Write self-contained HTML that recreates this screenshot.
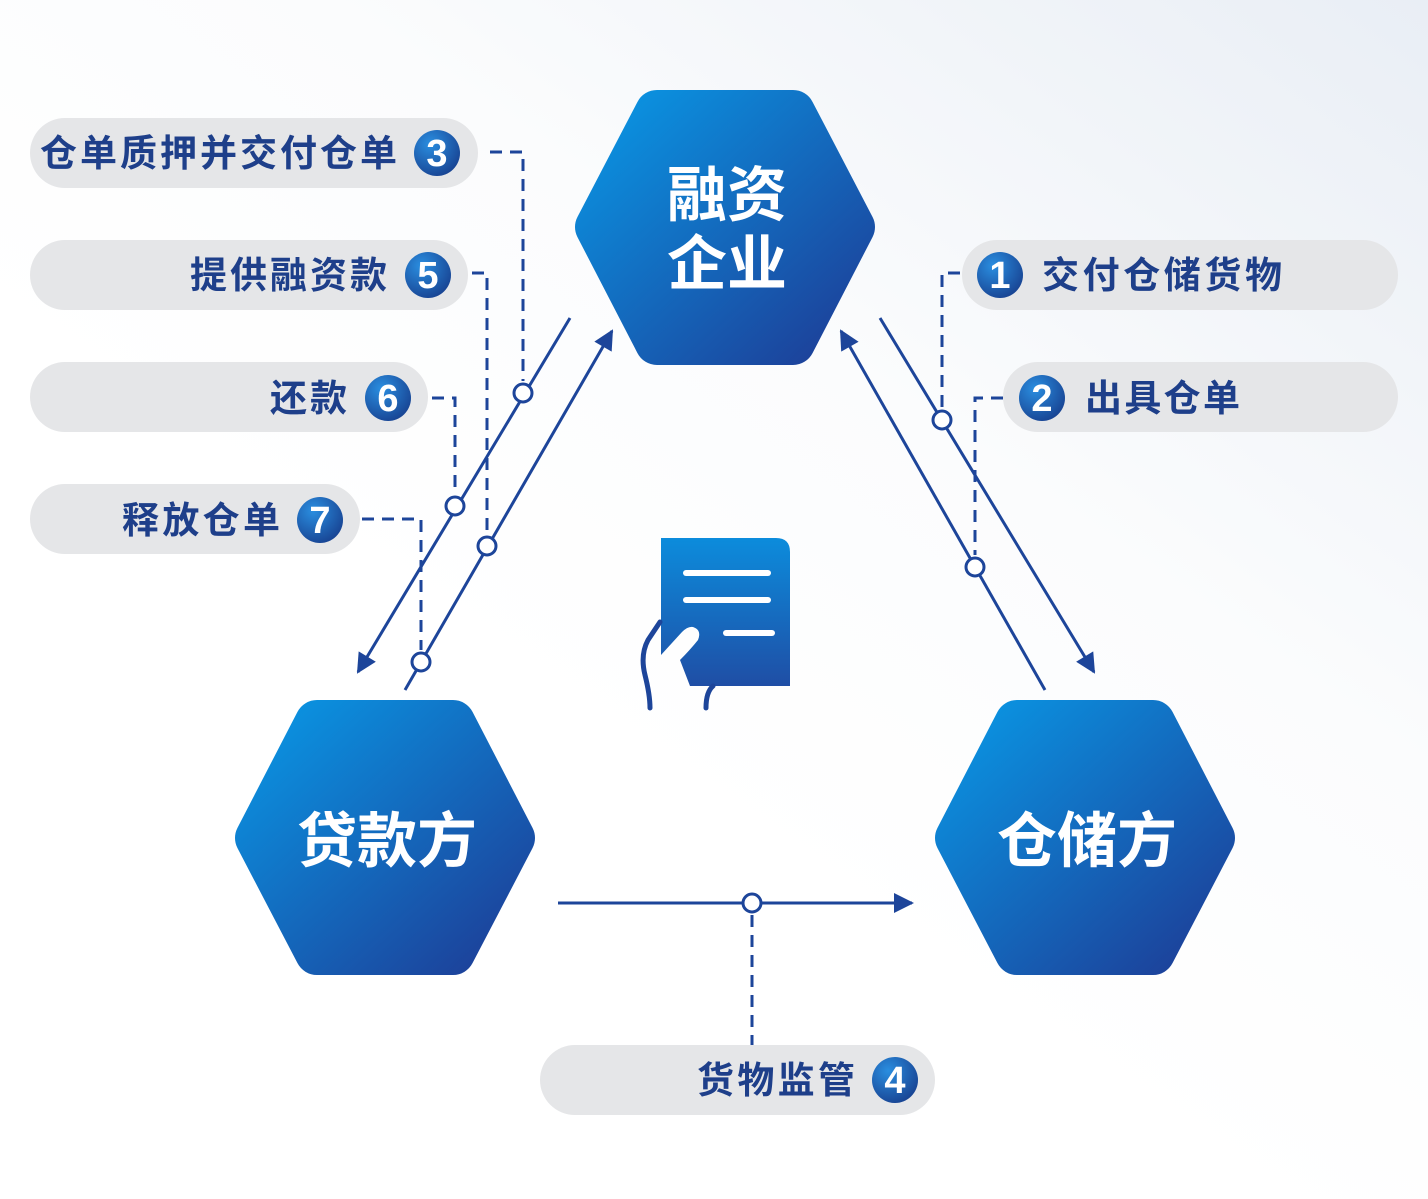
<!DOCTYPE html>
<html><head><meta charset="utf-8"><style>
html,body{margin:0;padding:0;}
body{width:1428px;height:1199px;overflow:hidden;background:linear-gradient(215deg,#e9eef5 0%,#fbfcfd 35%,#ffffff 60%);}
svg{display:block}
text{font-family:"Liberation Sans","Noto Sans CJK SC",sans-serif;}
</style></head><body>
<svg width="1428" height="1199" viewBox="0 0 1428 1199">
<defs>
<linearGradient id="g" x1="0" y1="0" x2="1" y2="1">
<stop offset="0" stop-color="#0a94e2"/><stop offset="1" stop-color="#1d3f98"/></linearGradient>
<linearGradient id="gd" x1="0" y1="0" x2="0" y2="1">
<stop offset="0" stop-color="#0c8cdc"/><stop offset="1" stop-color="#1f4ea5"/></linearGradient>
<radialGradient id="nb" cx="0.35" cy="0.3" r="0.8"><stop offset="0" stop-color="#2a8ee0"/><stop offset="1" stop-color="#173f8e"/></radialGradient>
<marker id="ar" viewBox="0 0 10 10" refX="9" refY="5" markerWidth="22" markerHeight="20" markerUnits="userSpaceOnUse" orient="auto"><path d="M0,0L10,5L0,10z" fill="#1d459a"/></marker>
</defs>
<g fill="url(#g)" stroke="url(#g)" stroke-width="44" stroke-linejoin="round">
<polygon points="597,227 657,112 793,112 853,227 793,343 657,343"/>
<polygon points="257,838 317,722 453,722 513,838 453,953 317,953"/>
<polygon points="957,838 1017,722 1153,722 1213,838 1153,953 1017,953"/>
</g>
<g fill="#fff" font-weight="bold" font-size="60" text-anchor="middle">
<text x="727" y="216">融资</text><text x="727" y="285">企业</text>
<text x="387" y="862">贷款方</text><text x="1087" y="862">仓储方</text>
</g>
<g fill="#e5e6e8">
<rect x="30" y="118" width="448" height="70" rx="35"/>
<rect x="30" y="240" width="438" height="70" rx="35"/>
<rect x="30" y="362" width="398" height="70" rx="35"/>
<rect x="30" y="484" width="330" height="70" rx="35"/>
<rect x="962" y="240" width="436" height="70" rx="35"/>
<rect x="1003" y="362" width="395" height="70" rx="35"/>
<rect x="540" y="1045" width="395" height="70" rx="35"/>
</g>
<g fill="#1e3f8a" font-size="37" font-weight="bold" lengthAdjust="spacing">
<text x="40" y="166" textLength="357">仓单质押并交付仓单</text>
<text x="190" y="288" textLength="197">提供融资款</text>
<text x="270" y="411" textLength="77">还款</text>
<text x="122" y="533" textLength="158">释放仓单</text>
<text x="1042" y="288" textLength="240">交付仓储货物</text>
<text x="1085" y="411" textLength="155">出具仓单</text>
<text x="697" y="1093" textLength="158">货物监管</text>
</g>
<g fill="url(#nb)">
<circle cx="437" cy="153" r="23"/><circle cx="428" cy="275" r="23"/><circle cx="388" cy="398" r="23"/><circle cx="320" cy="520" r="23"/>
<circle cx="1000" cy="275" r="23"/><circle cx="1042" cy="398" r="23"/><circle cx="895" cy="1080" r="23"/>
</g>
<g fill="#fff" font-size="38" font-weight="bold" text-anchor="middle">
<text x="437" y="166">3</text><text x="428" y="288">5</text><text x="388" y="411">6</text><text x="320" y="533">7</text>
<text x="1000" y="288">1</text><text x="1042" y="411">2</text><text x="895" y="1093">4</text>
</g>
<g fill="none" stroke="#1d459a" stroke-width="3" stroke-dasharray="12,8">
<polyline points="490,152 523,152 523,381"/>
<polyline points="472,273 487,273 487,534"/>
<polyline points="432,398 455,398 455,494"/>
<polyline points="362,519 421,519 421,650"/>
<polyline points="960,273 942,273 942,408"/>
<polyline points="1003,398 975,398 975,555"/>
<polyline points="752,915 752,1045"/>
</g>
<g stroke="#1d459a" stroke-width="3" fill="none" marker-end="url(#ar)">
<line x1="570" y1="318" x2="358" y2="672"/>
<line x1="405" y1="690" x2="612" y2="331"/>
<line x1="880" y1="318" x2="1094" y2="672"/>
<line x1="1045" y1="690" x2="841" y2="331"/>
<line x1="558" y1="903" x2="912" y2="903"/>
</g>
<g fill="#fff" stroke="#1d459a" stroke-width="3">
<circle cx="523" cy="393" r="9"/><circle cx="455" cy="506" r="9"/><circle cx="487" cy="546" r="9"/><circle cx="421" cy="662" r="9"/>
<circle cx="942" cy="420" r="9"/><circle cx="975" cy="567" r="9"/><circle cx="752" cy="903" r="9"/>
</g>
<path d="M661,538 H776 Q790,538 790,552 V686 H690 L680,660 Q690,650 698,640 Q702,630 693,627 Q688,626 682,632 L661,655 Z" fill="url(#gd)"/>
<g stroke="#fff" stroke-width="6" stroke-linecap="round">
<line x1="686" y1="573" x2="768" y2="573"/><line x1="686" y1="600" x2="768" y2="600"/><line x1="726" y1="633" x2="772" y2="633"/>
</g>
<path d="M660,622 L648,640 Q640,655 645,675 Q650,695 650,708" fill="none" stroke="#1d459a" stroke-width="5" stroke-linecap="round"/>
<path d="M706,708 Q706,692 713,686" fill="none" stroke="#1d459a" stroke-width="5" stroke-linecap="round"/>
</svg>
</body></html>
